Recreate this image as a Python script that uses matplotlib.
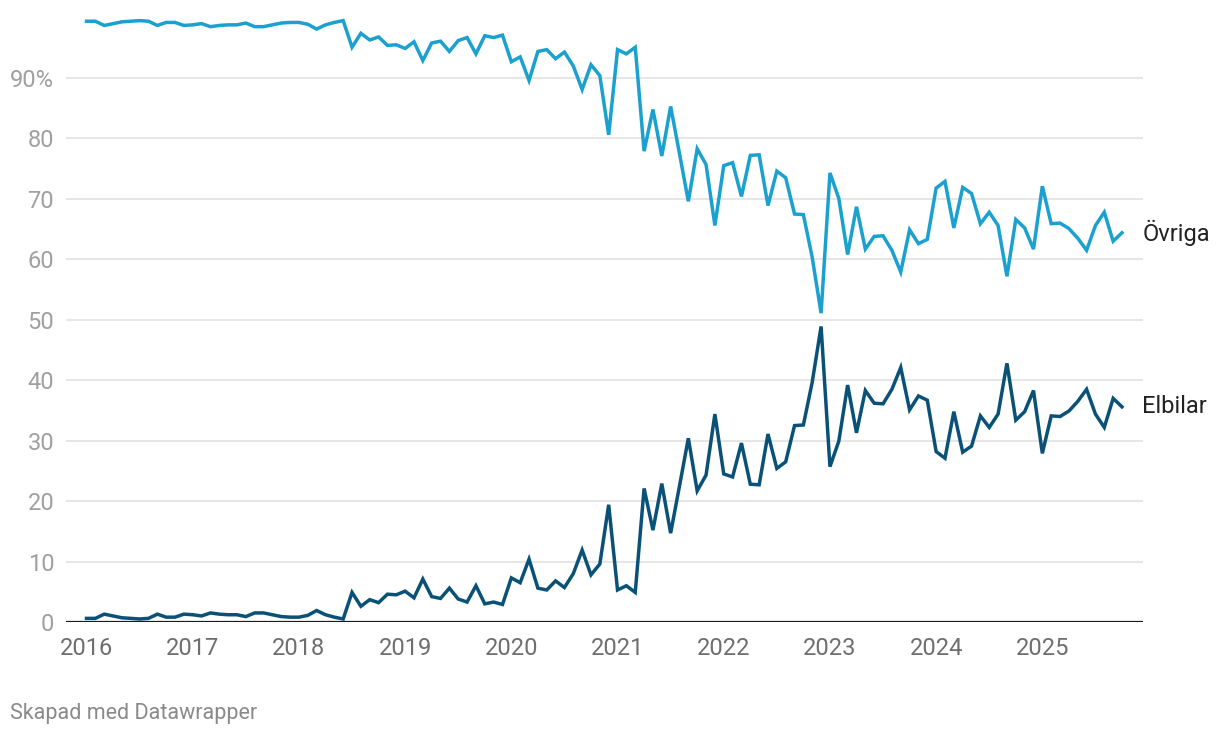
import matplotlib.pyplot as plt

# monthly share (%) of new registrations, Jan 2016 - Oct 2025
elbilar = [
    0.6, 0.6, 1.3, 1.0, 0.7, 0.6, 0.5, 0.6, 1.3, 0.8, 0.8, 1.3,
    1.2, 1.0, 1.5, 1.3, 1.2, 1.2, 0.9, 1.5, 1.5, 1.2, 0.9, 0.8,
    0.8, 1.1, 1.9, 1.2, 0.8, 0.5, 4.9, 2.6, 3.7, 3.2, 4.6, 4.5,
    5.1, 4.0, 7.1, 4.2, 3.9, 5.6, 3.8, 3.3, 6.0, 3.0, 3.3, 2.9,
    7.3, 6.5, 10.4, 5.6, 5.3, 6.8, 5.7, 8.0, 11.9, 7.8, 9.6, 19.4,
    5.3, 6.0, 4.9, 22.1, 15.2, 22.9, 14.7, 22.5, 30.4, 21.7, 24.3, 34.4,
    24.5, 24.0, 29.6, 22.8, 22.7, 31.1, 25.4, 26.5, 32.5, 32.6, 39.7, 48.9,
    25.7, 29.9, 39.2, 31.3, 38.3, 36.2, 36.1, 38.5, 42.1, 35.1, 37.4, 36.7,
    28.2, 27.1, 34.8, 28.1, 29.1, 34.1, 32.2, 34.4, 42.8, 33.4, 34.8, 38.3,
    27.9, 34.1, 34.0, 34.9, 36.5, 38.5, 34.4, 32.2, 37.0, 35.6,
]
ovriga = [
    99.4, 99.4, 98.7, 99.0, 99.3, 99.4, 99.5, 99.4, 98.7, 99.2, 99.2, 98.7,
    98.8, 99.0, 98.5, 98.7, 98.8, 98.8, 99.1, 98.5, 98.5, 98.8, 99.1, 99.2,
    99.2, 98.9, 98.1, 98.8, 99.2, 99.5, 95.1, 97.4, 96.3, 96.8, 95.4, 95.5,
    94.9, 96.0, 92.9, 95.8, 96.1, 94.4, 96.2, 96.7, 94.0, 97.0, 96.7, 97.1,
    92.7, 93.5, 89.6, 94.4, 94.7, 93.2, 94.3, 92.0, 88.1, 92.2, 90.4, 80.6,
    94.7, 94.0, 95.1, 77.9, 84.8, 77.1, 85.3, 77.5, 69.6, 78.3, 75.7, 65.6,
    75.5, 76.0, 70.4, 77.2, 77.3, 68.9, 74.6, 73.5, 67.5, 67.4, 60.3, 51.1,
    74.3, 70.1, 60.8, 68.7, 61.7, 63.8, 63.9, 61.5, 57.9, 64.9, 62.6, 63.3,
    71.8, 72.9, 65.2, 71.9, 70.9, 65.9, 67.8, 65.6, 57.2, 66.6, 65.2, 61.7,
    72.1, 65.9, 66.0, 65.1, 63.5, 61.5, 65.6, 67.8, 63.0, 64.4,
]
years = [2016, 2017, 2018, 2019, 2020, 2021, 2022, 2023, 2024, 2025]
y_ticks = [0, 10, 20, 30, 40, 50, 60, 70, 80, 90]
y_labels = ["0", "10", "20", "30", "40", "50", "60", "70", "80", "90%"]

plt.rcParams['font.family'] = ['Roboto', 'DejaVu Sans']

months = list(range(len(elbilar)))
W, H = 1220, 738
fig = plt.figure(figsize=(W / 100, H / 100), dpi=100)
# axes: y=0 at pixel 622, y=100 at pixel 17.6 (from top)
ax = fig.add_axes([66 / W, 116 / H, (1142.7 - 66) / W, (720.4 - 116) / H])

ax.plot(months, ovriga, color='#1ba1cf', lw=2.5, solid_joinstyle='miter', zorder=3)
ax.plot(months, elbilar, color='#0a5178', lw=2.5, solid_joinstyle='miter', zorder=3)

ax.set_xlim(-2.32, 119.34)
ax.set_ylim(0, 100)

for v in y_ticks[1:]:
    ax.axhline(v, color='#e2e2e2', lw=1.2, zorder=1)
ax.axhline(0, color='#1a1a1a', lw=1.6, zorder=4)

ax.set_yticks(y_ticks)
ax.set_yticklabels(y_labels)
ax.set_xticks([(y - 2016) * 12 for y in years])
ax.set_xticklabels([str(y) for y in years])
ax.tick_params(axis='y', length=0, pad=8.5, labelsize=17, labelcolor='#a0a0a0')
ax.tick_params(axis='x', length=0, pad=11, labelsize=17, labelcolor='#6e6e6e')
for lab in ax.get_yticklabels():
    lab.set_horizontalalignment('right')

for s in ax.spines.values():
    s.set_visible(False)

# direct labels at the end of each line
ax.annotate('Övriga', xy=(months[-1], ovriga[-1]), xytext=(14.5, 0),
            textcoords='offset points', va='center', ha='left',
            fontsize=17, color='#222222', annotation_clip=False)
ax.annotate('Elbilar', xy=(months[-1], elbilar[-1]), xytext=(14.5, 0),
            textcoords='offset points', va='center', ha='left',
            fontsize=17, color='#222222', annotation_clip=False)

fig.text(10 / W, 1 - 714 / H, 'Skapad med Datawrapper', fontsize=15.5,
         color='#8a8a8a', va='center', ha='left')

fig.savefig('out.png', dpi=100)
